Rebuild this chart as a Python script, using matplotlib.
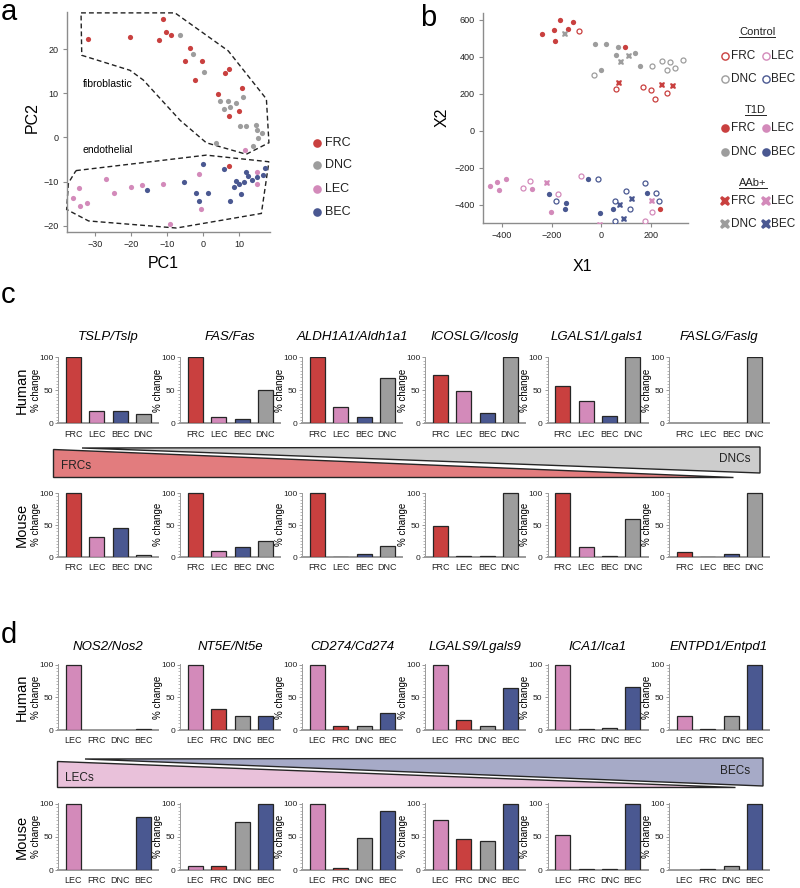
import numpy as np
import matplotlib
matplotlib.use('Agg')
import matplotlib.pyplot as plt
from matplotlib.patches import Polygon
from matplotlib.ticker import MultipleLocator

plt.rcParams['font.family'] = ['Liberation Sans', 'DejaVu Sans']

W, H = 800, 888
fig = plt.figure(figsize=(8, 8.88), dpi=100)


def rect(l, t, r, b):
    return [l / W, 1 - b / H, (r - l) / W, (b - t) / H]


COL = {'FRC': '#c9403f', 'DNC': '#9d9d9d', 'LEC': '#d38aba', 'BEC': '#4a5891'}
AXC = '#8c8c8c'

# ---------------- panel a data ----------------
a_frc = [(-32.1, 22.3), (-20.3, 22.7), (-11.2, 26.9), (-10.4, 23.8), (-9.0, 23.3),
         (-12.2, 22.0), (-3.6, 20.2), (-5.0, 17.2), (-0.4, 17.2), (-2.3, 13.1),
         (7.3, 15.4), (6.2, 14.5), (4.1, 9.8), (10.7, 11.2), (10.0, 6.0), (7.2, 4.8),
         (7.3, -6.5)]
a_dnc = [(-6.3, 23.3), (-2.7, 18.8), (0.2, 14.8), (4.7, 8.2), (6.8, 8.2), (5.7, 6.4),
         (7.4, 6.9), (9.2, 7.7), (11.2, 9.1), (10.3, 2.5), (12.0, 2.5), (14.8, 2.9),
         (15.1, 1.7), (16.3, 1.1), (15.4, -0.1), (3.5, -1.2), (13.9, -1.9)]
a_lec = [(11.6, -2.9), (-36.2, -13.7), (-34.2, -15.6), (-34.4, -11.4), (-32.2, -14.8),
         (-27.1, -9.3), (-24.8, -12.6), (-20.0, -11.3), (-17.0, -10.8), (-11.2, -10.5),
         (-9.1, -19.5), (-1.2, -8.3), (-0.6, -16.1), (15.0, -7.8), (14.9, -10.5)]
a_bec = [(-15.7, -12.0), (-5.2, -10.0), (0.1, -6.1), (-1.9, -12.5), (-1.0, -14.3),
         (1.3, -12.5), (5.8, -7.2), (7.5, -14.4), (9.1, -9.9), (8.7, -11.2),
         (10.0, -10.5), (10.5, -12.7), (12.0, -7.8), (12.6, -8.8), (11.4, -10.0),
         (13.6, -9.7), (14.9, -9.0), (16.6, -8.5), (17.3, -7.0)]
fibro_outline = [(-33.9, 28.2), (-7.8, 28.2), (7.0, 19.6), (17.6, 8.7), (18.3, -1.2),
                 (12.0, -3.8), (0.9, -1.2), (-6.4, 3.9), (-16.6, 13.0), (-20.3, 15.2),
                 (-33.7, 18.6)]
endo_outline = [(-35.3, -7.5), (0.9, -4.0), (18.3, -5.5), (16.2, -17.2), (-7.4, -20.5),
                (-31.8, -18.9), (-37.9, -16.3), (-37.4, -10.3)]

# ---------------- panel b data ----------------
b_ctrl_frc = [(-91, 537), (57, 224), (167, 237), (200, 222), (216, 173), (264, 202)]
b_ctrl_dnc = [(-28, 302), (204, 347), (243, 378), (275, 370), (264, 327), (296, 338), (328, 381)]
b_ctrl_lec = [(-287, -270), (-313, -308), (-175, -344), (-81, -246), (203, -442), (175, -489)]
b_ctrl_bec = [(-13, -261), (-184, -378), (53, -378), (100, -328), (116, -425), (53, -490),
              (173, -284), (217, -337), (231, -380)]
b_t1d_frc = [(-239, 522), (-192, 544), (-168, 598), (-136, 549), (-113, 589), (-187, 486),
             (95, 450), (236, -425)]
b_t1d_dnc = [(-25, 468), (17, 468), (68, 454), (60, 410), (135, 421), (153, 349), (-3, 327)]
b_t1d_lec = [(-447, -299), (-417, -277), (-409, -319), (-383, -263), (-279, -315), (-204, -440)]
b_t1d_bec = [(-212, -340), (-144, -393), (-148, -425), (-52, -259), (-5, -445), (45, -422),
             (181, -339)]
b_aab_frc = [(71, 256), (243, 247), (287, 242)]
b_aab_dnc = [(-148, 520), (77, 372), (109, 401)]
b_aab_lec = [(-219, -281), (201, -382), (-4, -510)]
b_aab_bec = [(76, -402), (124, -371), (92, -476)]

# ---------------- bar data ----------------
cats_c = ['FRC', 'LEC', 'BEC', 'DNC']
genes_c = ['TSLP/Tslp', 'FAS/Fas', 'ALDH1A1/Aldh1a1', 'ICOSLG/Icoslg', 'LGALS1/Lgals1', 'FASLG/Faslg']
c_human = [[100, 18, 18, 14], [100, 9, 7, 50], [100, 24, 9, 69],
           [74, 49, 15, 100], [56, 34, 11, 100], [0, 0, 0, 100]]
c_mouse = [[100, 32, 45, 3], [100, 9, 16, 25], [100, 0.5, 4, 17],
           [49, 1, 2, 100], [100, 15, 2, 60], [8, 0.5, 4, 100]]
cats_d = ['LEC', 'FRC', 'DNC', 'BEC']
genes_d = ['NOS2/Nos2', 'NT5E/Nt5e', 'CD274/Cd274', 'LGALS9/Lgals9', 'ICA1/Ica1', 'ENTPD1/Entpd1']
d_human = [[100, 0, 0, 2], [100, 33, 21, 21], [100, 6, 5.5, 26],
           [100, 15, 6, 64], [100, 1.5, 3, 66], [21, 1.5, 22, 100]]
d_mouse = [[100, 0, 0, 81], [6, 6.5, 72.5, 100], [100, 2.5, 48, 90],
           [75, 47.5, 43.5, 100], [53, 2, 1, 100], [0, 1, 6, 100]]


def style_scatter_axes(ax):
    for s in ['top', 'right']:
        ax.spines[s].set_visible(False)
    for s in ['left', 'bottom']:
        ax.spines[s].set_color(AXC)
        ax.spines[s].set_linewidth(1.0)
    ax.tick_params(length=3, width=0.8, color=AXC, labelsize=6.5, pad=3, labelcolor='#222222')


# ---------------- panel a ----------------
axa = fig.add_axes(rect(67, 12, 270, 232))
for pts, key in [(a_frc, 'FRC'), (a_dnc, 'DNC'), (a_lec, 'LEC'), (a_bec, 'BEC')]:
    arr = np.array(pts)
    axa.scatter(arr[:, 0], arr[:, 1], s=14, color=COL[key], linewidths=0, zorder=3)
for poly in [fibro_outline, endo_outline]:
    axa.add_patch(Polygon(poly, closed=True, fill=False, ls=(0, (3.5, 2.2)), lw=1.0,
                          ec='#222222', clip_on=False))
axa.text(-33.3, 12.2, 'fibroblastic', fontsize=7.5, va='center', ha='left')
axa.text(-33.6, -2.9, 'endothelial', fontsize=7.5, va='center', ha='left')
axa.set_xlim(-37.8, 18.6)
axa.set_ylim(-21.4, 28.4)
axa.set_xticks([-30, -20, -10, 0, 10])
axa.set_yticks([-20, -10, 0, 10, 20])
style_scatter_axes(axa)
axa.set_xlabel('PC1', fontsize=11.5)
axa.xaxis.set_label_coords(0.473, -0.11)
axa.set_ylabel('PC2', fontsize=11.5)
axa.yaxis.set_label_coords(-0.135, 0.518)

# ---------------- panel b ----------------
axb = fig.add_axes(rect(482.7, 13, 688, 223))
cellkeys = ['FRC', 'DNC', 'LEC', 'BEC']
groups = {
    'ctrl': [b_ctrl_frc, b_ctrl_dnc, b_ctrl_lec, b_ctrl_bec],
    't1d': [b_t1d_frc, b_t1d_dnc, b_t1d_lec, b_t1d_bec],
    'aab': [b_aab_frc, b_aab_dnc, b_aab_lec, b_aab_bec],
}
for cond, lists in groups.items():
    for key, pts in zip(cellkeys, lists):
        arr = np.array(pts)
        c = COL[key]
        if cond == 'ctrl':
            axb.plot(arr[:, 0], arr[:, 1], 'o', ms=3.6, mfc='white', mec=c, mew=0.9, zorder=3)
        elif cond == 't1d':
            axb.plot(arr[:, 0], arr[:, 1], 'o', ms=3.8, mfc=c, mec=c, mew=0, zorder=3)
        else:
            axb.plot(arr[:, 0], arr[:, 1], 'X', ms=5.0, mfc=c, mec=c, mew=0, zorder=3)
axb.set_xlim(-476, 347)
axb.set_ylim(-499, 636)
axb.set_xticks([-400, -200, 0, 200])
axb.set_yticks([-400, -200, 0, 200, 400, 600])
style_scatter_axes(axb)
axb.set_xlabel('X1', fontsize=11.5)
axb.xaxis.set_label_coords(0.484, -0.17)
axb.set_ylabel('X2', fontsize=11.5)
axb.yaxis.set_label_coords(-0.16, 0.505)


# ---------------- bar panels ----------------
def bar_axes(r, cats, vals, species=None):
    ax = fig.add_axes(r)
    x = np.arange(len(cats))
    lws = [0 if v == 0 else 0.9 for v in vals]
    ax.bar(x, vals, width=0.64, color=[COL[c] for c in cats], edgecolor='#262626',
           linewidth=lws, zorder=3)
    ax.set_xlim(-0.65, 3.62)
    ax.set_ylim(0, 101)
    ax.set_xticks(x)
    ax.set_xticklabels(cats, fontsize=6.5)
    ax.set_yticks([0, 50, 100])
    ax.yaxis.set_minor_locator(MultipleLocator(5))
    for s in ['top', 'right']:
        ax.spines[s].set_visible(False)
    ax.spines['left'].set_color('#9a9a9a')
    ax.spines['left'].set_linewidth(0.7)
    ax.spines['bottom'].set_color('#9a9a9a')
    ax.spines['bottom'].set_linewidth(1.4)
    ax.tick_params(axis='x', length=0, pad=4.5, labelcolor='#222222')
    ax.tick_params(axis='y', which='major', length=2, width=0.6, color='#888888',
                   labelsize=6, pad=1.5, labelcolor='#222222')
    ax.tick_params(axis='y', which='minor', length=1.2, width=0.5, color='#9a9a9a')
    ax.set_ylabel('% change', fontsize=7)
    ax.yaxis.set_label_coords(-0.17, 0.5)
    if species:
        ax.text(-0.36, 0.5, species, transform=ax.transAxes, rotation=90, fontsize=10.5,
                ha='center', va='center')
    return ax


colx = [58, 180, 302, 425, 547.5, 669]
rows = [
    (356.8, 423.3, cats_c, c_human, genes_c, 'Human', 337),
    (492.5, 557.0, cats_c, c_mouse, None, 'Mouse', None),
    (664.3, 730.0, cats_d, d_human, genes_d, 'Human', 647),
    (803.3, 870.0, cats_d, d_mouse, None, 'Mouse', None),
]
for top, bot, cats, data, genes, sp, ty in rows:
    for i, cx in enumerate(colx):
        ax = bar_axes(rect(cx, top, cx + 100, bot), cats, data[i],
                      species=sp if i == 0 else None)
        if genes is not None:
            fig.text((cx + 50) / W, 1 - ty / H, genes[i], fontsize=9.5, style='italic',
                     ha='center', va='center')

# ---------------- overlay: wedges, legends, letters ----------------
ov = fig.add_axes([0, 0, 1, 1])
ov.set_xlim(0, W)
ov.set_ylim(H, 0)
ov.axis('off')
ov.patch.set_alpha(0)

# wedge c
ov.add_patch(Polygon([(82, 448), (760, 447), (760, 473)], closed=True, fc='#cdcdcd',
                     ec='#262626', lw=1.0))
ov.add_patch(Polygon([(53, 449), (53, 477), (733, 477)], closed=True, fc='#e27c7e',
                     ec='#262626', lw=1.0))
ov.text(61, 466, 'FRCs', fontsize=8.5, ha='left', va='center', color='#222222')
ov.text(750, 459, 'DNCs', fontsize=8.5, ha='right', va='center', color='#222222')
# wedge d
ov.add_patch(Polygon([(85, 759), (763, 758), (763, 786)], closed=True, fc='#a6aac7',
                     ec='#262626', lw=1.0))
ov.add_patch(Polygon([(57, 761), (57, 787), (735, 787)], closed=True, fc='#e9c1da',
                     ec='#262626', lw=1.0))
ov.text(65, 778, 'LECs', fontsize=8.5, ha='left', va='center', color='#222222')
ov.text(750, 771, 'BECs', fontsize=8.5, ha='right', va='center', color='#222222')

# legend a
for y, key in zip([142.7, 165, 189, 212.3], ['FRC', 'DNC', 'LEC', 'BEC']):
    ov.plot([316.7], [y], 'o', ms=6.2, color=COL[key], mew=0)
    ov.text(325, y, key, fontsize=9, va='center', ha='left', color='#222222')

# legend b headers (underlined)
renderer = fig.canvas.get_renderer()
for hx, hy, s in [(757, 32, 'Control'), (755, 110, 'T1D'), (753, 182.7, 'AAb+')]:
    t = ov.text(hx, hy, s, fontsize=8, ha='center', va='center', color='#222222')
    bb = t.get_window_extent(renderer=renderer)
    wpx = bb.width
    ov.plot([hx - wpx / 2, hx + wpx / 2], [hy + 5.5, hy + 5.5], color='#222222', lw=0.7)

leg_rows = [
    (56, ('FRC', 'LEC'), 'ctrl'), (79, ('DNC', 'BEC'), 'ctrl'),
    (128.3, ('FRC', 'LEC'), 't1d'), (152.3, ('DNC', 'BEC'), 't1d'),
    (201.3, ('FRC', 'LEC'), 'aab'), (224.3, ('DNC', 'BEC'), 'aab'),
]
for y, keys, cond in leg_rows:
    for mx, key in zip([724.5, 765.5], keys):
        c = COL[key]
        if cond == 'ctrl':
            ov.plot([mx], [y], 'o', ms=5.2, mfc='white', mec=c, mew=1.0)
        elif cond == 't1d':
            ov.plot([mx], [y], 'o', ms=6.2, mfc=c, mec=c, mew=0)
        else:
            ov.plot([mx], [y], 'X', ms=7.5, mfc=c, mec=c, mew=0)
        ov.text(mx + 6, y, key, fontsize=8.5, va='center', ha='left', color='#222222')

# panel letters
for lx, ly, s in [(1, 19.5, 'a'), (420, 26, 'b'), (1, 303, 'c'), (1, 643, 'd')]:
    ov.text(lx, ly, s, fontsize=21, ha='left', va='baseline')

fig.savefig('out.png', dpi=100)
